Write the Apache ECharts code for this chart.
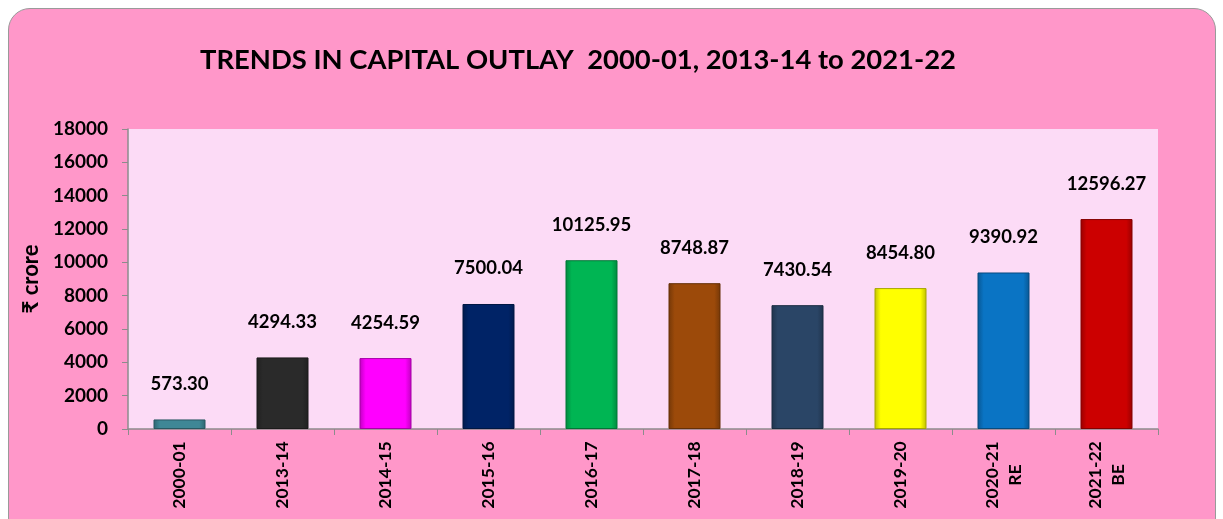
<!DOCTYPE html>
<html>
<head>
<meta charset="utf-8">
<script src="https://cdn.jsdelivr.net/npm/echarts@6/dist/echarts.min.js"></script>
<style>
  html, body { margin: 0; padding: 0; background: #fff; }
  .card {
    position: absolute; left: 8px; top: 8px; width: 1206px; height: 530px;
    background: #FF97C9; border: 1px solid #9a9a9a; border-radius: 22px;
  }
  #chart { position: absolute; left: 0; top: 0; width: 1223px; height: 519px; }
</style>
</head>
<body>
<div class="card"></div>
<div id="chart"></div>
<script>
const categories = ['2000-01', '2013-14', '2014-15', '2015-16', '2016-17', '2017-18', '2018-19', '2019-20', '2020-21\nRE', '2021-22\nBE']
const outlay = [573.30, 4294.33, 4254.59, 7500.04, 10125.95, 8748.87, 7430.54, 8454.80, 9390.92, 12596.27]
const barColors = ['#3F8796', '#2A2A2A', '#FF00FF', '#002366', '#00B553', '#9C4A0A', '#2A4566', '#FFFF00', '#0A74C4', '#CC0000']

const font = 'Lato'

const shade = (hex, f) => {
  const n = parseInt(hex.slice(1), 16)
  const c = [n >> 16, (n >> 8) & 255, n & 255].map(v =>
    Math.round(f > 0 ? v + (255 - v) * f : v * (1 + f)))
  return 'rgb(' + c.join(',') + ')'
}

const chart = echarts.init(document.getElementById('chart'))
chart.setOption({
  backgroundColor: 'transparent',
  title: {
    text: 'TRENDS IN CAPITAL OUTLAY  2000-01, 2013-14 to 2021-22',
    left: 573, top: 42, textAlign: 'center',
    textStyle: { fontFamily: font, fontWeight: 'bold', fontSize: 27.4, color: '#000' }
  },
  grid: {
    left: 128, right: 65, top: 129, bottom: 90,
    show: true, backgroundColor: '#FCDBF6', borderWidth: 0
  },
  xAxis: {
    type: 'category',
    data: categories,
    axisLine: { lineStyle: { color: '#8c8c8c', width: 1.5 } },
    axisTick: { show: true, length: 6, lineStyle: { color: '#8c8c8c' } },
    axisLabel: {
      rotate: 90, margin: 46, color: '#000', fontFamily: font,
      fontWeight: 'bold', fontSize: 17.5, lineHeight: 23, align: 'center'
    }
  },
  yAxis: {
    type: 'value', min: 0, max: 18000, interval: 2000,
    name: '₹ crore', nameLocation: 'middle', nameGap: 86, nameRotate: 90,
    nameTextStyle: { fontFamily: font, fontWeight: 'bold', fontSize: 22, color: '#000' },
    axisLine: { show: true, lineStyle: { color: '#8c8c8c', width: 1.5 } },
    axisTick: { show: true, length: 6, lineStyle: { color: '#8c8c8c' } },
    splitLine: { show: false },
    axisLabel: {
      margin: 20, color: '#000', fontFamily: font, fontWeight: 'bold', fontSize: 19,
      formatter: v => String(v)
    }
  },
  series: [{
    type: 'bar',
    barWidth: 52,
    data: outlay.map((v, i) => ({
      value: v,
      itemStyle: {
        borderColor: shade(barColors[i], -0.35), borderWidth: 1,
        color: new echarts.graphic.LinearGradient(0, 0, 1, 0, [
          { offset: 0, color: shade(barColors[i], -0.25) },
          { offset: 0.12, color: barColors[i] },
          { offset: 0.88, color: barColors[i] },
          { offset: 1, color: shade(barColors[i], -0.25) }
        ])
      }
    })),
    label: {
      show: true, position: 'top', distance: 26,
      formatter: p => p.value.toFixed(2),
      color: '#000', fontFamily: font, fontWeight: 'bold', fontSize: 18.5
    }
  }]
})
</script>
</body>
</html>
